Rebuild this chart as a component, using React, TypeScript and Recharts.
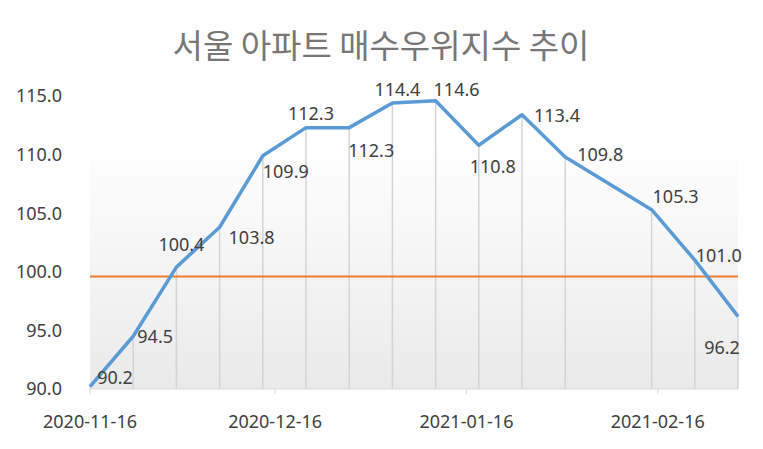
import React from "react";
import {
  LineChart,
  Line,
  XAxis,
  YAxis,
  CartesianGrid,
  ReferenceLine,
  LabelList,
} from "recharts";

// weekly index values (2021-02-08 has no value in the source)
const weekDates = [
  "2020-11-16", "2020-11-23", "2020-11-30", "2020-12-07", "2020-12-14",
  "2020-12-21", "2020-12-28", "2021-01-04", "2021-01-11", "2021-01-18",
  "2021-01-25", "2021-02-01", "2021-02-15", "2021-02-22", "2021-03-01",
];
const indexValues = [
  90.2, 94.5, 100.4, 103.8, 109.9, 112.3, 112.3, 114.4, 114.6, 110.8,
  113.4, 109.8, 105.3, 101.0, 96.2,
];
const xTickDates = ["2020-11-16", "2020-12-16", "2021-01-16", "2021-02-16"];
const yTicks = [90, 95, 100, 105, 110, 115];
const baselineLevel = 99.6;
const title = "서울 아파트 매수우위지수 추이";

// label offsets from each point (dx, dy)
const labelOffsets: [number, number][] = [
  [25, -10], [22, 0], [5, -23], [32, 10], [23, 15],
  [5, -15], [22, 22], [5, -14], [21, -12], [14, 21],
  [35, 0], [35, -3], [24, -14], [24, -5], [-16, 31],
];

const toTime = (d: string) => Date.parse(d + "T00:00:00Z");

const data = weekDates.map((d, i) => ({ t: toTime(d), v: indexValues[i] }));
const xTicks = xTickDates.map(toTime);

const fmtDate = (t: number) => new Date(t).toISOString().slice(0, 10);

const NUM_FONT = "'Noto Sans', sans-serif";

const renderLabel = (props: any) => {
  const { x, y, value, index } = props;
  const [dx, dy] = labelOffsets[index] || [0, 0];
  return (
    <text
      x={x + dx}
      y={y + dy}
      textAnchor="middle"
      dominantBaseline="central"
      fontSize={18}
      fontFamily={NUM_FONT}
      fill="#404040"
    >
      {Number(value).toFixed(1)}
    </text>
  );
};

export default function App() {
  return (
    <div style={{ position: "absolute", left: 0, top: 0, width: 763, height: 449, background: "#fff" }}>
      <LineChart
        width={763}
        height={449}
        data={data}
        margin={{ top: 96, right: 25, left: 0, bottom: 0 }}
      >
        <defs>
          <linearGradient id="plotBg" x1="0" y1="0" x2="0" y2="1">
            <stop offset="0%" stopColor="#ffffff" />
            <stop offset="15%" stopColor="#ffffff" />
            <stop offset="100%" stopColor="#eaeaea" />
          </linearGradient>
        </defs>
        <text
          x={381}
          y={44}
          textAnchor="middle"
          dominantBaseline="central"
          fontSize={33}
          fontFamily="'Noto Sans CJK KR', sans-serif"
          fill="#777777"
        >
          {title}
        </text>
        <CartesianGrid horizontal={false} vertical={false} fill="url(#plotBg)" />
        <XAxis
          dataKey="t"
          type="number"
          domain={[data[0].t, data[data.length - 1].t]}
          ticks={xTicks}
          tickFormatter={fmtDate}
          height={60}
          tickSize={5}
          tickMargin={21}
          stroke="#d9d9d9"
          tick={{ fontSize: 18, fill: "#404040", fontFamily: NUM_FONT }}
        />
        <YAxis
          domain={[90, 115]}
          ticks={yTicks}
          width={90}
          axisLine={false}
          tickLine={false}
          tickMargin={22}
          tickFormatter={(v: number) => v.toFixed(1)}
          tick={{ fontSize: 18, fill: "#404040", fontFamily: NUM_FONT }}
        />
        {data.map((d) => (
          <ReferenceLine
            key={d.t}
            segment={[{ x: d.t, y: 90 }, { x: d.t, y: d.v }]}
            stroke="#d4d4d4"
            strokeWidth={1.5}
          />
        ))}
        <ReferenceLine y={baselineLevel} stroke="#ed7d31" strokeWidth={2} />
        <Line
          dataKey="v"
          stroke="#5b9bd5"
          strokeWidth={3.5}
          dot={false}
          isAnimationActive={false}
          strokeLinejoin="round"
        >
          <LabelList dataKey="v" content={renderLabel} />
        </Line>
      </LineChart>
    </div>
  );
}
